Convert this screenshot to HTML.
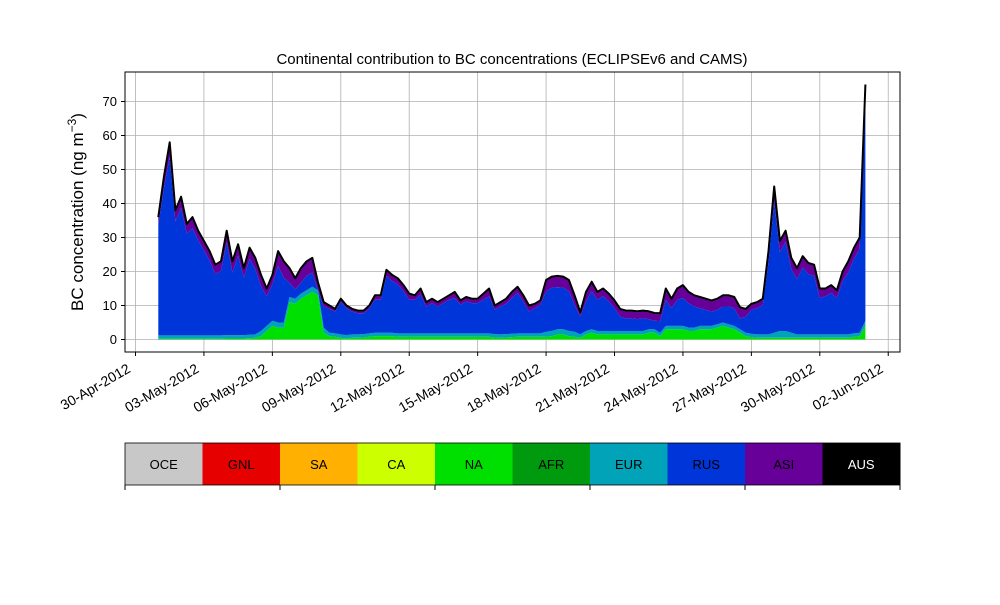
<!DOCTYPE html>
<html><head><meta charset="utf-8">
<style>
body{margin:0;background:#fff;}
svg text{font-family:"Liberation Sans","DejaVu Sans",sans-serif;}
</style></head>
<body>
<svg id="chart" width="1000" height="600" xmlns="http://www.w3.org/2000/svg">
<rect x="0" y="0" width="1000" height="600" fill="#fff"/>
<text x="512" y="64" text-anchor="middle" font-size="15">Continental contribution to BC concentrations (ECLIPSEv6 and CAMS)</text>
<text transform="translate(83,212) rotate(-90)" text-anchor="middle" font-size="17">BC concentration (ng m<tspan dy="-7" font-size="12">−3</tspan><tspan dy="7">)</tspan></text>
<g id="grid"></g>
<g id="areas"></g>
<g id="axes"></g>
<g id="legend"></g>
</svg>
<script>
// ---- data ----
const startDay = 1.0;   // days after 30-Apr-2012 00:00
const stepDay = 0.25;
const total = [36,48,58,38,42,34,36,32,29,26, 22,23,32,23,28,21,27,24,19,15,
19,26,23,21,18,21,23,24,15,11, 10,9,12,10,9,8.5,8.5,10,13,13,
20.5,19,18,16,13.5,13,15,11,12,11, 12,13,14,11.5,12.5,12,12,13.5,15,10,
11,12,14,15.5,13,10,10.5,11.5,17.5,18.5, 18.7,18.5,17.5,13,8,14,17,14,15,13.5,
11.5,9,8.5,8.5,8.3,8.5,8.3,7.8,7.7,15, 12,15,16,14,13,12.5,12,11.5,12,13,
13,12.5,9.5,9,10.5,11,12,26,45,29, 32,24,21,24.5,22.5,22,15,15,16,14.5,
20,23,27,30,75];
const asi = [2,3,4,3,3,2.5,3,2.5,2.5,2.5, 2.5,2.5,3,3,3,2.5,3,3,3,2,
2.5,4,4.5,4,3,4,4,4,2,1, 0.7,0.5,0.5,0.5,0.5,0.5,0.5,0.5,1,1,
1.5,1.5,1.5,1.5,1.5,1,1.5,1,1,1, 1,1,1.5,1,1,1,1,1.5,2,1,
1,1.2,1.5,1.5,1.5,1.5,1,1,3,3, 3,3,3,2.5,1,2.5,2.5,2,2,2,
2,2,2,2,2,2,2,2,2,3, 2.5,3,3.5,3,3,3,3,3,3,3,
3,3,3,2,1.5,1.5,1.5,3,4,3, 3,3,3,3,3,3,2.5,2,2,2,
2.5,3,3,3,1];
const na = [0.2,0.2,0.2,0.2,0.2,0.2,0.2,0.2,0.2,0.2, 0.2,0.2,0.3,0.3,0.3,0.3,0.4,0.5,1,2.5,
4,3.5,3.5,11,10.5,12,13,14,13,2, 1,0.8,0.5,0.3,0.5,0.5,0.6,0.8,1,1,
1,1,0.8,0.8,0.8,0.8,0.8,0.8,0.8,0.8, 0.8,0.8,0.8,0.8,0.8,0.8,0.8,0.8,0.8,0.6,
0.5,0.6,0.7,0.8,0.8,0.8,0.8,0.8,0.8,1, 1.5,1.5,1,0.8,0.5,1.5,2,1.5,1.5,1.5,
1.5,1.5,1.5,1.5,1.5,1.5,2,2,1,3, 3,3,3,2.5,2.5,3,3,3,3.5,4,
3.5,3,2,1,0.7,0.5,0.5,0.5,0.5,0.5, 0.5,0.5,0.5,0.5,0.5,0.5,0.5,0.5,0.5,0.5,
0.5,0.5,0.8,1,4];
const eur = [1,1,1,1,1,1,1,1,1,1, 1,1,1,1,1,1,1,1,1.5,1.5,
1.5,1.5,1.5,1.5,1.5,1.5,1.5,1.5,1.5,1.5, 1,1,1,1,1,1,1,1,1,1,
1,1,1,1,1,1,1,1,1,1, 1,1,1,1,1,1,1,1,1,1,
1,1,1,1,1,1,1,1,1.5,1.5, 1.5,1.5,1.5,1.5,1,1,1,1,1,1,
1,1,1,1,1,1,1,1,1,1, 1,1,1,1,1,1,1,1,1,1,
1,1,1,1,1,1,1,1,1.5,2, 2,1.5,1,1,1,1,1,1,1,1,
1,1,1,1,1.5];
const yTicks = [0,10,20,30,40,50,60,70];
const xTickDays = [0,3,6,9,12,15,18,21,24,27,30,33];
const xTickLabels = ["30-Apr-2012","03-May-2012","06-May-2012","09-May-2012","12-May-2012","15-May-2012","18-May-2012","21-May-2012","24-May-2012","27-May-2012","30-May-2012","02-Jun-2012"];
const regions = ["OCE","GNL","SA","CA","NA","AFR","EUR","RUS","ASI","AUS"];
const regionColors = ["#c8c8c8","#e60000","#ffb000","#ccff00","#00e000","#009a0e","#00a3b8","#0036d9","#660099","#000000"];

// ---- scales ----
const L=125,R=900,T=72,B=352;
const xs = d => 135.5 + d*22.81;
const ys = v => 339.5 - v*3.4;
const NS="http://www.w3.org/2000/svg";
function mk(tag, parent){const e=document.createElementNS(NS,tag);parent.appendChild(e);return e;}

const grid=document.getElementById('grid');
xTickDays.forEach(d=>{const l=mk('line',grid);


l.setAttribute('x1',xs(d));l.setAttribute('x2',xs(d));l.setAttribute('y1',T);l.setAttribute('y2',B);l.setAttribute('stroke','#b0b0b0');l.setAttribute('stroke-width','0.8');});
yTicks.forEach(v=>{const l=mk('line',grid);


l.setAttribute('x1',L);l.setAttribute('x2',R);l.setAttribute('y1',ys(v));l.setAttribute('y2',ys(v));l.setAttribute('stroke','#b0b0b0');l.setAttribute('stroke-width','0.8');});

// stacked layers
const n=total.length;
const days=total.map((_,i)=>startDay+i*stepDay);
const aus=total.map(()=>0.3);
const rus=total.map((t,i)=>Math.max(0,t-asi[i]-eur[i]-na[i]-aus[i]));
const layers=[["NA",na,regionColors[4]],["EUR",eur,regionColors[6]],["RUS",rus,regionColors[7]],["ASI",asi,regionColors[8]],["AUS",aus,regionColors[9]]];
const base=total.map(()=>0);
const areas=document.getElementById('areas');
layers.forEach(([name,vals,col])=>{
  const top=base.map((b,i)=>b+vals[i]);
  let d='M'+days.map((t,i)=>xs(t).toFixed(1)+','+ys(top[i]).toFixed(1)).join('L');
  for(let i=n-1;i>=0;i--) d+='L'+xs(days[i]).toFixed(1)+','+ys(base[i]).toFixed(1);
  d+='Z';
  const p=mk('path',areas);
  
  
  p.setAttribute('d',d);p.setAttribute('fill',col);
  for(let i=0;i<n;i++) base[i]=top[i];
});
const tl=mk('polyline',areas);


tl.setAttribute('points',days.map((t,i)=>xs(t).toFixed(1)+','+ys(base[i]).toFixed(1)).join(' '));
tl.setAttribute('fill','none');tl.setAttribute('stroke','#000');tl.setAttribute('stroke-width','2');tl.setAttribute('stroke-linejoin','round');

// axes
const axes=document.getElementById('axes');
const fr=mk('rect',axes);


fr.setAttribute('x',L);fr.setAttribute('y',T);fr.setAttribute('width',R-L);fr.setAttribute('height',B-T);fr.setAttribute('fill','none');fr.setAttribute('stroke','#000');fr.setAttribute('stroke-width','1');
yTicks.forEach(v=>{
  const l=mk('line',axes);
  
  
  l.setAttribute('x1',L-4);l.setAttribute('x2',L);l.setAttribute('y1',ys(v));l.setAttribute('y2',ys(v));l.setAttribute('stroke','#000');
  const t=mk('text',axes);
  
  
  t.setAttribute('x',L-8);t.setAttribute('y',ys(v)+4.5);t.setAttribute('text-anchor','end');t.setAttribute('font-size','13');t.textContent=v;
});
xTickDays.forEach((d,i)=>{
  const x=xs(d);
  const l=mk('line',axes);
  
  
  l.setAttribute('x1',x);l.setAttribute('x2',x);l.setAttribute('y1',B);l.setAttribute('y2',B+4);l.setAttribute('stroke','#000');
  const t=mk('text',axes);
  
  
  t.setAttribute('transform','translate('+(x-9)+','+(B+11)+') rotate(-30)');
  t.setAttribute('text-anchor','end');t.setAttribute('font-size','14');t.setAttribute('dy','0.7em');t.textContent=xTickLabels[i];
});

// legend colorbar
const lg=document.getElementById('legend');
const cw=(R-L)/regions.length;
regions.forEach((r,i)=>{
  const c=mk('rect',lg);
  
  
  c.setAttribute('x',L+i*cw);c.setAttribute('y',443);c.setAttribute('width',cw+0.5);c.setAttribute('height',42);c.setAttribute('fill',regionColors[i]);
  const t=mk('text',lg);
  
  
  t.setAttribute('x',L+i*cw+cw/2);t.setAttribute('y',469);t.setAttribute('text-anchor','middle');t.setAttribute('font-size','13');
  t.setAttribute('fill',r==='AUS'?'#fff':'#000');t.textContent=r;
});
const lf=mk('rect',lg);


lf.setAttribute('x',L);lf.setAttribute('y',443);lf.setAttribute('width',R-L);lf.setAttribute('height',42);lf.setAttribute('fill','none');lf.setAttribute('stroke','#000');lf.setAttribute('stroke-width','0.8');
for(let i=0;i<=regions.length;i+=2){
  const l=mk('line',lg);
  
  
  l.setAttribute('x1',L+i*cw);l.setAttribute('x2',L+i*cw);l.setAttribute('y1',485);l.setAttribute('y2',490);l.setAttribute('stroke','#000');
}
</script>
</body></html>
